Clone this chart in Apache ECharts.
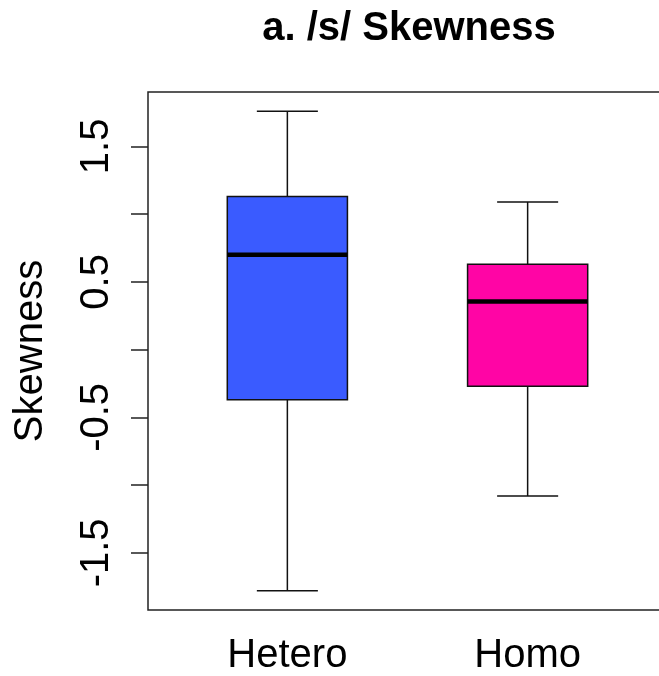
<!DOCTYPE html>
<html>
<head>
<meta charset="utf-8">
<script src="https://cdn.jsdelivr.net/npm/echarts@6/dist/echarts.min.js"></script>
<style>
  html, body { margin: 0; padding: 0; background: #ffffff; }
  #chart { width: 659px; height: 676px; }
</style>
</head>
<body>
<div id="chart"></div>
<script>
// ---- data ----
const categories = ['Hetero', 'Homo'];
const lowerWhisker = [-1.78, -1.08];
const q1 = [-0.37, -0.27];
const median = [0.70, 0.355];
const q3 = [1.13, 0.63];
const upperWhisker = [1.76, 1.09];
const boxColors = ['#3A5BFF', '#FF05A5'];
const yTickValues = [-1.5, -1, -0.5, 0, 0.5, 1, 1.5];
const yLabelValues = [-1.5, -0.5, 0.5, 1.5];
const titleText = 'a. /s/ Skewness';
const yAxisTitle = 'Skewness';

// R-style axis extension (4%)
const dataMin = Math.min(...lowerWhisker);
const dataMax = Math.max(...upperWhisker);
const ySpan = dataMax - dataMin;
const yMin = dataMin - 0.04 * ySpan;
const yMax = dataMax + 0.04 * ySpan;
const xMin = 0.5 - 0.04 * categories.length;
const xMax = categories.length + 0.5 + 0.04 * categories.length;

const seriesData = categories.map((c, i) => [i + 1, lowerWhisker[i], q1[i], median[i], q3[i], upperWhisker[i]]);

const FONT = "'Liberation Sans', Arial, sans-serif";
const chart = echarts.init(document.getElementById('chart'), null, { renderer: 'canvas' });

chart.setOption({
  animation: false,
  backgroundColor: '#ffffff',
  title: {
    text: titleText,
    left: 404,
    top: 4,
    textAlign: 'center',
    textStyle: { fontFamily: FONT, fontSize: 40, fontWeight: 'bold', color: '#000' }
  },
  grid: {
    left: 148, top: 92, width: 519, height: 518,
    outerBoundsMode: 'none',
    show: true, borderColor: '#222', borderWidth: 1.5, backgroundColor: 'transparent',
    containLabel: false
  },
  xAxis: {
    type: 'value',
    min: xMin, max: xMax,
    splitLine: { show: false },
    axisLine: { show: false },
    axisTick: { show: true, customValues: [1, 2], length: 17, lineStyle: { color: '#222', width: 1.5 } },
    axisLabel: {
      customValues: [1, 2],
      formatter: v => categories[Math.round(v) - 1],
      fontFamily: FONT, fontSize: 40, color: '#000', margin: 26
    }
  },
  yAxis: {
    type: 'value',
    min: yMin, max: yMax,
    name: yAxisTitle,
    nameLocation: 'middle',
    nameGap: 97,
    nameTextStyle: { fontFamily: FONT, fontSize: 40, color: '#000' },
    splitLine: { show: false },
    axisLine: { show: false },
    axisTick: { show: true, customValues: yTickValues, length: 17, lineStyle: { color: '#222', width: 1.5 } },
    axisLabel: {
      customValues: yLabelValues,
      rotate: 90,
      formatter: v => String(v),
      fontFamily: FONT, fontSize: 40, color: '#000', margin: 31
    }
  },
  series: [{
    type: 'custom',
    data: seriesData,
    encode: { x: 0, y: [1, 2, 3, 4, 5] },
    renderItem: function (params, api) {
      const x = api.value(0);
      const lo = api.value(1), a = api.value(2), m = api.value(3), b = api.value(4), hi = api.value(5);
      const boxHalf = 0.25, capHalf = 0.127;
      const pLo = api.coord([x, lo]);
      const pHi = api.coord([x, hi]);
      const pA = api.coord([x, a]);
      const pB = api.coord([x, b]);
      const boxL = api.coord([x - boxHalf, b]);
      const boxR = api.coord([x + boxHalf, a]);
      const capL = api.coord([x - capHalf, lo])[0];
      const capR = api.coord([x + capHalf, lo])[0];
      const medL = api.coord([x - boxHalf, m]);
      const medR = api.coord([x + boxHalf, m]);
      const lineStyle = { stroke: '#111', lineWidth: 1.5 };
      return {
        type: 'group',
        children: [
          { type: 'line', shape: { x1: pHi[0], y1: pHi[1], x2: pB[0], y2: pB[1] }, style: lineStyle },
          { type: 'line', shape: { x1: pA[0], y1: pA[1], x2: pLo[0], y2: pLo[1] }, style: lineStyle },
          { type: 'line', shape: { x1: capL, y1: pHi[1], x2: capR, y2: pHi[1] }, style: lineStyle },
          { type: 'line', shape: { x1: capL, y1: pLo[1], x2: capR, y2: pLo[1] }, style: lineStyle },
          { type: 'rect', shape: { x: boxL[0], y: boxL[1], width: boxR[0] - boxL[0], height: boxR[1] - boxL[1] },
            style: { fill: boxColors[params.dataIndex], stroke: '#111', lineWidth: 1.5 } },
          { type: 'line', shape: { x1: medL[0], y1: medL[1], x2: medR[0], y2: medR[1] },
            style: { stroke: '#000', lineWidth: 4.5 } }
        ]
      };
    }
  }]
});
</script>
</body>
</html>
